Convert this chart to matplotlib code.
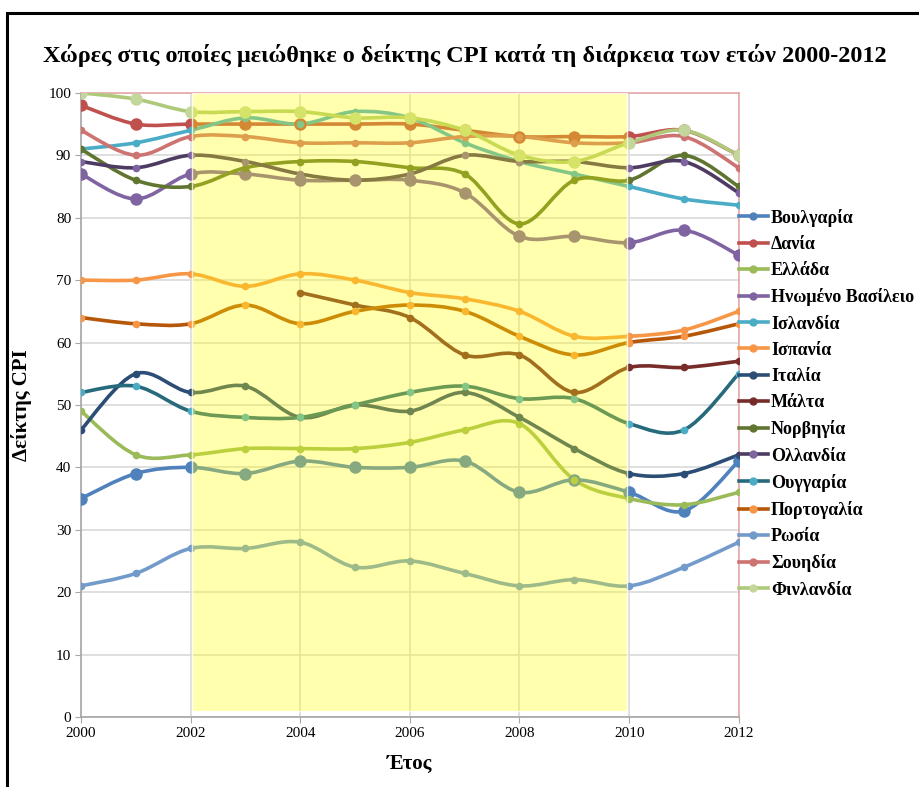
import numpy as np
import matplotlib
matplotlib.use("Agg")
import matplotlib.pyplot as plt
from matplotlib.path import Path
from matplotlib.patches import PathPatch, Rectangle
from matplotlib.lines import Line2D

plt.rcParams['font.family'] = ['Liberation Serif', 'DejaVu Serif']

years = np.arange(2000, 2013)

countries = ["Βουλγαρία", "Δανία", "Ελλάδα", "Ηνωμένο Βασίλειο", "Ισλανδία",
             "Ισπανία", "Ιταλία", "Μάλτα", "Νορβηγία", "Ολλανδία",
             "Ουγγαρία", "Πορτογαλία", "Ρωσία", "Σουηδία", "Φινλανδία"]

bulgaria    = [35, 39, 40, 39, 41, 40, 40, 41, 36, 38, 36, 33, 41]
denmark     = [98, 95, 95, 95, 95, 95, 95, 94, 93, 93, 93, 94, 90]
greece      = [49, 42, 42, 43, 43, 43, 44, 46, 47, 38, 35, 34, 36]
uk          = [87, 83, 87, 87, 86, 86, 86, 84, 77, 77, 76, 78, 74]
iceland     = [91, 92, 94, 96, 95, 97, 96, 92, 89, 87, 85, 83, 82]
spain       = [70, 70, 71, 69, 71, 70, 68, 67, 65, 61, 61, 62, 65]
italy       = [46, 55, 52, 53, 48, 50, 49, 52, 48, 43, 39, 39, 42]
malta       = [np.nan, np.nan, np.nan, np.nan, 68, 66, 64, 58, 58, 52, 56, 56, 57]
norway      = [91, 86, 85, 88, 89, 89, 88, 87, 79, 86, 86, 90, 85]
netherlands = [89, 88, 90, 89, 87, 86, 87, 90, 89, 89, 88, 89, 84]
hungary     = [52, 53, 49, 48, 48, 50, 52, 53, 51, 51, 47, 46, 55]
portugal    = [64, 63, 63, 66, 63, 65, 66, 65, 61, 58, 60, 61, 63]
russia      = [21, 23, 27, 27, 28, 24, 25, 23, 21, 22, 21, 24, 28]
sweden      = [94, 90, 93, 93, 92, 92, 92, 93, 93, 92, 92, 93, 88]
finland     = [100, 99, 97, 97, 97, 96, 96, 94, 90, 89, 92, 94, 90]

series = [bulgaria, denmark, greece, uk, iceland, spain, italy, malta, norway,
          netherlands, hungary, portugal, russia, sweden, finland]

line_colors = ["#4F81BD", "#C0504D", "#9BBB59", "#8064A2", "#4BACC6",
               "#F79646", "#2C4D75", "#772C2A", "#5F7530", "#4D3B62",
               "#276A7C", "#B65708", "#729ACA", "#CD7371", "#AFC97A"]
marker_colors = ["#4F81BD", "#C0504D", "#9BBB59", "#8064A2", "#4BACC6",
                 "#F79646", "#2C4D75", "#772C2A", "#5F7530", "#8064A2",
                 "#4BACC6", "#F79646", "#729ACA", "#CD7371", "#C3D69B"]
marker_sizes = [9, 9, 5.5, 9, 5.5, 5.5, 5.5, 5.5, 5.5, 5.5, 5.5, 5.5, 5.5, 5.5, 9]


def smooth_path(x, y):
    # Excel-like smoothed line: cubic bezier through the points
    ok = ~np.isnan(y)
    p = np.column_stack([x[ok], y[ok]]).astype(float)
    n = len(p)
    verts = [p[0]]
    codes = [Path.MOVETO]
    for i in range(n - 1):
        p0 = p[i - 1] if i > 0 else p[i]
        p3 = p[i + 2] if i + 2 < n else p[i + 1]
        c1 = p[i] + (p[i + 1] - p0) / 6.0
        c2 = p[i + 1] - (p3 - p[i]) / 6.0
        verts += [c1, c2, p[i + 1]]
        codes += [Path.CURVE4] * 3
    return Path(verts, codes)


fig = plt.figure(figsize=(9.2, 7.87), dpi=100)
ax = fig.add_axes([0.088, 0.089, 0.715, 0.793])

handles = []
for name, vals, lc, mc, ms in zip(countries, series, line_colors, marker_colors, marker_sizes):
    y = np.array(vals, dtype=float)
    ax.add_patch(PathPatch(smooth_path(years, y), facecolor='none', edgecolor=lc,
                           lw=2.6, zorder=3, capstyle='round', joinstyle='round'))
    ax.plot(years, y, 'o', color=mc, markersize=ms, markeredgewidth=0, zorder=4)
    handles.append(Line2D([], [], color=lc, lw=2.6, marker='o', markersize=6,
                          markerfacecolor=mc, markeredgewidth=0))

# highlighted period
ax.add_patch(Rectangle((2002.03, 0.9), 7.94, 99.1, facecolor=(1, 1, 0, 0.32),
                       edgecolor=(1, 1, 1, 0.8), lw=1, zorder=6))

ax.set_xlim(2000, 2012)
ax.set_ylim(0, 100)
ax.set_xticks(np.arange(2000, 2013, 2))
ax.set_yticks(np.arange(0, 101, 10))
ax.grid(True, color='#D9D9D9', lw=1.2, zorder=0)
ax.set_axisbelow(True)
ax.tick_params(labelsize=11, length=4, color='#A6A6A6', pad=3)
for s in ['left', 'bottom']:
    ax.spines[s].set_color('#A6A6A6')
    ax.spines[s].set_linewidth(1.2)
for s in ['top', 'right']:
    ax.spines[s].set_color('#E6A8A8')
    ax.spines[s].set_linewidth(1.2)

ax.set_xlabel("Έτος", fontsize=15, fontweight='bold', labelpad=10)
ax.set_ylabel("Δείκτης CPI", fontsize=15, fontweight='bold', labelpad=12)
fig.text(0.505, 0.93, "Χώρες στις οποίες μειώθηκε ο δείκτης CPI κατά τη διάρκεια των ετών 2000-2012",
         ha='center', va='center', fontsize=17.5, fontweight='bold')

fig.legend(handles, countries, loc='upper left', bbox_to_anchor=(0.795, 0.744),
           frameon=False, handlelength=1.6, handletextpad=0.2,
           labelspacing=0.51, borderaxespad=0, prop={'weight': 'bold', 'size': 13})

# outer black frame (cropped at right and bottom)
fig.patches.append(Rectangle((7 / 920, -0.05), 1.1, 1 - 13 / 787 + 0.05,
                             transform=fig.transFigure, fill=False,
                             edgecolor='black', lw=2.2))

fig.savefig("out.png", dpi=100)
